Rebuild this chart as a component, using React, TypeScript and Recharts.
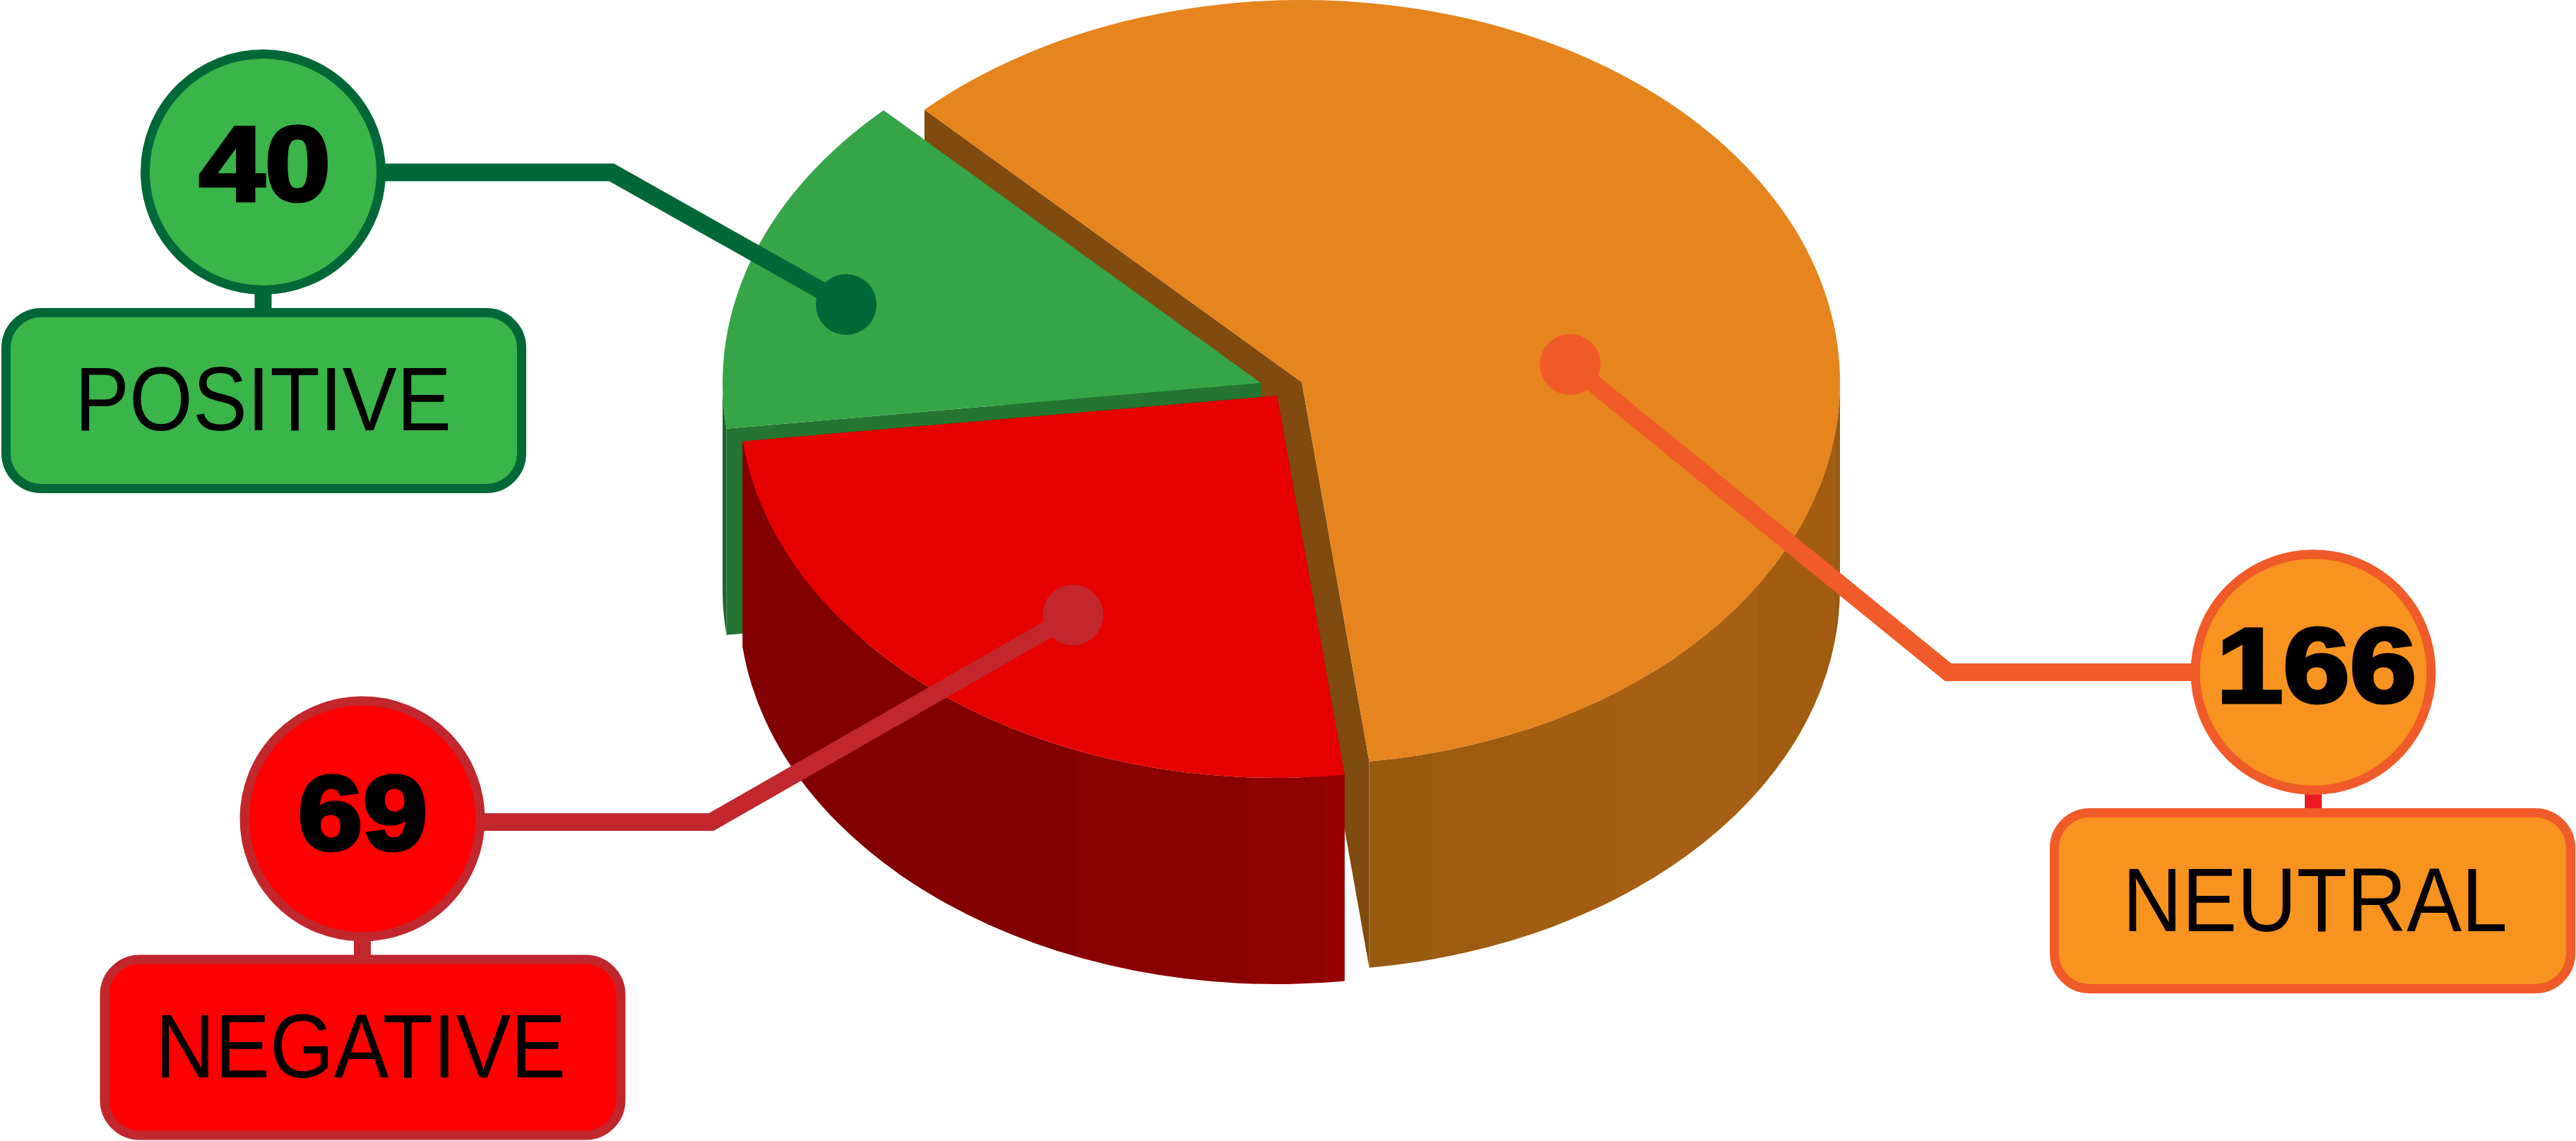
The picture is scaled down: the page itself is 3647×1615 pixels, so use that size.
import React from 'react';
import { PieChart, Pie } from 'recharts';

const categories = ['NEUTRAL', 'POSITIVE', 'NEGATIVE'];
const values = [166, 40, 69];

const chartData = categories.map((name, i) => ({ name, value: values[i] }));

const WIDTH = 3647;
const HEIGHT = 1615;
const SQUASH = 0.71;
const DEPTH = 292;

// how far each slice is pulled out of the pie
const EXPLODE: Record<string, [number, number]> = {
  NEUTRAL: [31, 0],
  POSITIVE: [-27, 1],
  NEGATIVE: [-4, 19],
};

const TOP_COLORS: Record<string, string> = {
  NEUTRAL: '#e6841d',
  POSITIVE: '#36a548',
  NEGATIVE: '#e60000',
};

const EDGE_COLORS: Record<string, string> = {
  NEUTRAL: '#804b0e',
  POSITIVE: '#247531',
  NEGATIVE: '#7a0000',
};

// stepped shading of the outer wall: [offset, colour]
const WALL_STEPS: Record<string, [number, string][]> = {
  NEUTRAL: [
    [0.132, '#975a10'],
    [0.302, '#9d5c11'],
    [0.521, '#a25e11'],
    [0.825, '#a76013'],
    [0.99, '#a25d11'],
    [1, '#995a11'],
  ],
  POSITIVE: [[1, '#1f632a']],
  NEGATIVE: [
    [0.557, '#820000'],
    [0.841, '#890000'],
    [0.966, '#910000'],
    [1, '#980000'],
  ],
};

const CALLOUTS: Record<string, any> = {
  NEUTRAL: {
    fill: '#f7931e', stroke: '#f15a29', stem: '#ed1c24',
    dot: [2223, 516], bend: [2758, 951.5], circle: [3275, 951.5],
    box: [2908.5, 1150.5, 731, 249],
    labelX: 3277.5, labelY: 1318, labelLen: 545,
    numX: 3279.5, numY: 994, numLen: 283,
  },
  POSITIVE: {
    fill: '#39b54a', stroke: '#006837', stem: '#006837',
    dot: [1198, 431], bend: [866, 244], circle: [372.5, 243.5],
    box: [8.5, 442.5, 730, 249],
    labelX: 372.5, labelY: 609, labelLen: 533,
    numX: 375, numY: 284, numLen: 186,
  },
  NEGATIVE: {
    fill: '#ff0000', stroke: '#c1272d', stem: '#c1272d',
    dot: [1519, 870.5], bend: [1007, 1163.5], circle: [513, 1159],
    box: [148, 1358, 731, 249],
    labelX: 510.5, labelY: 1525, labelLen: 581,
    numX: 513.5, numY: 1203, numLen: 184,
  },
};

function SliceShape(props: any) {
  const { cx, cy, outerRadius, startAngle, endAngle, name } = props;
  const [ox, oy] = EXPLODE[name];
  const rx = outerRadius;
  const ry = outerRadius * SQUASH;
  const ax = cx + ox;
  const ay = cy + oy;
  const pt = (deg: number, down = 0) => {
    const a = (deg * Math.PI) / 180;
    return `${ax + rx * Math.cos(a)} ${ay - ry * Math.sin(a) + down}`;
  };
  const large = Math.abs(endAngle - startAngle) > 180 ? 1 : 0;
  const top = `M${ax} ${ay} L${pt(startAngle)} A${rx} ${ry} 0 ${large} 0 ${pt(endAngle)} Z`;
  const edge = (deg: number) =>
    `M${ax} ${ay} L${pt(deg)} L${pt(deg, DEPTH)} L${ax} ${ay + DEPTH} Z`;

  // only the front half of the rim is ever seen
  const rims: string[] = [];
  [[-180, 0], [180, 360]].forEach(([lo, hi]) => {
    const a = Math.max(startAngle, lo);
    const b = Math.min(endAngle, hi);
    if (b > a) {
      rims.push(`M${pt(a)} A${rx} ${ry} 0 0 0 ${pt(b)} L${pt(b, DEPTH)} A${rx} ${ry} 0 0 1 ${pt(a, DEPTH)} Z`);
    }
  });

  const gradId = `wall-${name}`;
  let prev = 0;
  return (
    <g>
      <defs>
        <linearGradient id={gradId} x1="0" y1="0" x2="1" y2="0">
          {WALL_STEPS[name].flatMap(([offset, color]) => {
            const stops = [
              <stop key={`${offset}a`} offset={prev} stopColor={color} />,
              <stop key={`${offset}b`} offset={offset} stopColor={color} />,
            ];
            prev = offset;
            return stops;
          })}
        </linearGradient>
      </defs>
      <path d={edge(startAngle)} fill={EDGE_COLORS[name]} />
      <path d={edge(endAngle)} fill={EDGE_COLORS[name]} />
      {rims.map((d) => (
        <path key={d} d={d} fill={`url(#${gradId})`} />
      ))}
      <path d={top} fill={TOP_COLORS[name]} />
    </g>
  );
}

function Callout(props: any) {
  const { name, value } = props;
  const c = CALLOUTS[name];
  const [bx, by, bw, bh] = c.box;
  return (
    <g>
      <polyline
        points={`${c.dot[0]},${c.dot[1]} ${c.bend[0]},${c.bend[1]} ${c.circle[0]},${c.bend[1]}`}
        fill="none"
        stroke={c.stroke}
        strokeWidth={25}
        strokeLinejoin="miter"
      />
      <circle cx={c.dot[0]} cy={c.dot[1]} r={43} fill={c.stroke} />
      <rect x={c.circle[0] - 12} y={c.circle[1] + 160} width={24} height={by - c.circle[1] - 155} fill={c.stem} />
      <circle cx={c.circle[0]} cy={c.circle[1]} r={167} fill={c.fill} stroke={c.stroke} strokeWidth={13} />
      <rect x={bx} y={by} width={bw} height={bh} rx={50} ry={50} fill={c.fill} stroke={c.stroke} strokeWidth={13} />
      <text
        x={c.numX}
        y={c.numY}
        textAnchor="middle"
        fontFamily="'Liberation Sans', Arial, sans-serif"
        fontWeight="bold"
        fontSize={150}
        fill="#000"
        stroke="#000"
        strokeWidth={5}
        textLength={c.numLen}
        lengthAdjust="spacingAndGlyphs"
      >
        {value}
      </text>
      <text
        x={c.labelX}
        y={c.labelY}
        textAnchor="middle"
        fontFamily="'Liberation Sans', Arial, sans-serif"
        fontSize={128}
        fill="#000"
        textLength={c.labelLen}
        lengthAdjust="spacingAndGlyphs"
      >
        {name}
      </text>
    </g>
  );
}

export default function App() {
  return (
    <div style={{ position: 'absolute', left: 0, top: 0, width: WIDTH, height: HEIGHT, background: '#fff' }}>
      <PieChart width={WIDTH} height={HEIGHT} margin={{ top: 0, right: 0, bottom: 0, left: 0 }}>
        <Pie
          data={chartData}
          dataKey="value"
          nameKey="name"
          cx={1812}
          cy={541}
          outerRadius={762}
          startAngle={-82.8}
          endAngle={277.2}
          stroke="none"
          shape={SliceShape}
          inactiveShape={SliceShape}
          label={Callout}
          labelLine={false}
          isAnimationActive={false}
        />
      </PieChart>
    </div>
  );
}
